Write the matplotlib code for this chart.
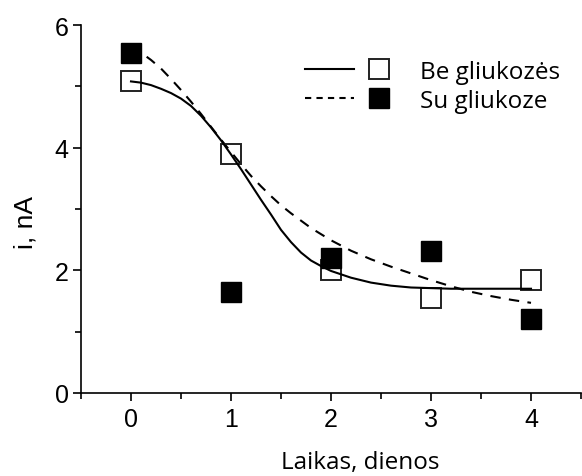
import matplotlib
matplotlib.use("Agg")
import matplotlib.pyplot as plt
from matplotlib.legend_handler import HandlerTuple
from matplotlib.lines import Line2D

# measured current per day
days = [0, 1, 2, 3, 4]
be_gliukozes = [5.09, 3.89, 2.00, 1.55, 1.84]
su_gliukoze = [5.55, 1.64, 2.20, 2.32, 1.21]

# fitted curves, sampled along x
fit_x = [0.0, 0.1, 0.2, 0.3, 0.4, 0.5, 0.6, 0.7, 0.8, 0.9,
         1.0, 1.1, 1.2, 1.3, 1.4, 1.5, 1.6, 1.7, 1.8, 1.9,
         2.0, 2.2, 2.4, 2.6, 2.8, 3.0, 3.2, 3.4, 3.6, 3.8, 4.0]
fit_be = [5.08, 5.06, 5.02, 4.96, 4.89, 4.80, 4.68, 4.52, 4.33, 4.12,
          3.89, 3.65, 3.40, 3.15, 2.91, 2.66, 2.46, 2.29, 2.16, 2.07,
          1.99, 1.88, 1.80, 1.75, 1.72, 1.71, 1.70, 1.70, 1.70, 1.70, 1.70]
fit_su = [5.65, 5.55, 5.43, 5.29, 5.12, 4.94, 4.75, 4.55, 4.34, 4.13,
          3.93, 3.73, 3.54, 3.37, 3.21, 3.06, 2.93, 2.81, 2.69, 2.59,
          2.49, 2.32, 2.18, 2.06, 1.95, 1.84, 1.74, 1.65, 1.58, 1.52, 1.47]

x_ticks = [0, 1, 2, 3, 4]
y_ticks = [0, 2, 4, 6]

plt.rcParams['font.family'] = ['Liberation Sans', 'DejaVu Sans']

fig = plt.figure(figsize=(5.82, 4.77), dpi=100)
ax = fig.add_axes([81 / 582, 1 - 394 / 477, 500 / 582, 368 / 477])

dash = (0, (5, 4))
ax.plot(fit_x, fit_be, color='black', lw=1.5, zorder=3)
ax.plot(fit_x, fit_su, color='black', lw=1.5, linestyle=dash, zorder=2)
ax.plot(days, be_gliukozes, 's', ms=15, mfc='none', mec='#222222', mew=1.4, zorder=2)
ax.plot(days, su_gliukoze, 's', ms=15, mfc='black', mec='black', mew=1.0, zorder=4)

ax.set_xlim(-0.5, 4.5)
ax.set_ylim(0, 6)
ax.set_xticks(x_ticks)
ax.set_yticks(y_ticks)
ax.set_xticks([-0.5, 0.5, 1.5, 2.5, 3.5, 4.5], minor=True)
ax.set_yticks([1, 3, 5], minor=True)
ax.tick_params(which='major', length=6, width=1.2, labelsize=18, direction='out')
ax.tick_params(which='minor', length=4, width=1.2, direction='out')
ax.tick_params(axis='x', pad=4)
ax.tick_params(axis='y', pad=3)

for s in ['top', 'right']:
    ax.spines[s].set_visible(False)
for s in ['left', 'bottom']:
    ax.spines[s].set_linewidth(1.2)

ax.set_ylabel('i, nA', fontsize=19)
ax.yaxis.set_label_coords(-0.086, 0.467)
ax.set_xlabel('Laikas, dienos', fontsize=17.5, family=['Open Sans', 'DejaVu Sans'])
ax.xaxis.set_label_coords(0.558, -0.155)

# legend: line + marker in one handle
h_be = (Line2D([], [], color='black', lw=1.5),
        Line2D([], [], marker='s', ms=15, mfc='none', mec='#222222', mew=1.4, ls='none'))
h_su = (Line2D([], [], color='black', lw=1.5, linestyle=(0, (3, 2.5))),
        Line2D([], [], marker='s', ms=15, mfc='black', mec='black', ls='none'))
leg = fig.legend([h_be, h_su], ['Be gliukozės', 'Su gliukoze'],
                 handler_map={tuple: HandlerTuple(ndivide=None, pad=0)},
                 loc='upper left', bbox_to_anchor=(305 / 582, 1 - 61 / 477),
                 frameon=False, borderpad=0, borderaxespad=0,
                 handlelength=4.07, handletextpad=0.68, labelspacing=0.2,
                 prop={'family': ['Open Sans', 'DejaVu Sans'], 'size': 17.5})

fig.savefig('out.png', dpi=100)
